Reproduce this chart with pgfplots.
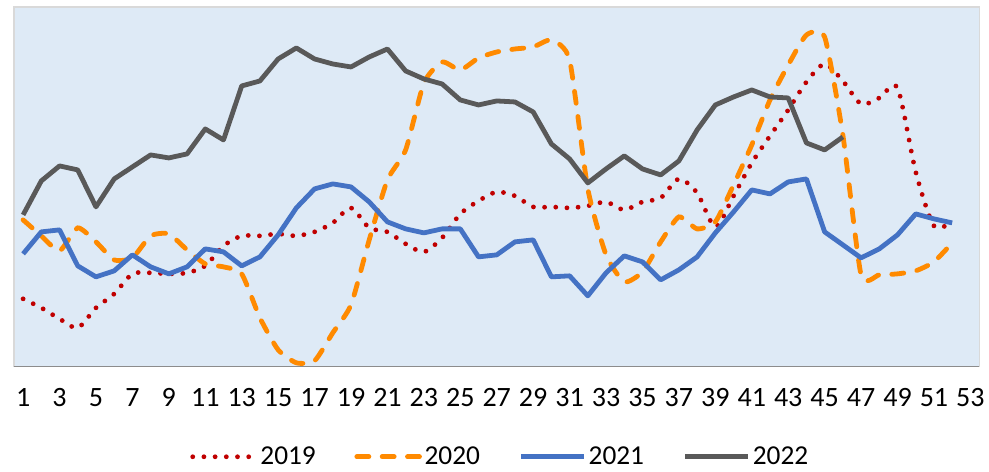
\documentclass[border=0pt]{standalone}
\usepackage{pgfplots}
\pgfplotsset{compat=1.18}
\usepackage{fontspec}
\setmainfont{Carlito}
\definecolor{c19}{HTML}{C00000}
\definecolor{c20}{HTML}{FF8A00}
\definecolor{c21}{HTML}{4472C4}
\definecolor{c22}{HTML}{595959}
\definecolor{bgc}{HTML}{DEEAF6}
\definecolor{bordc}{HTML}{D9D9D9}
\definecolor{axc}{HTML}{8C8C8C}
\begin{document}
\begin{tikzpicture}
\begin{axis}[
  scale only axis, width=724.5pt, height=270pt,
  xmin=0.5, xmax=53.5, ymin=0, ymax=360,
  xtick={1,3,...,53}, ytick=\empty,
  major tick length=0pt,
  axis background/.style={fill=bgc},
  axis line style={draw=bordc, line width=1pt},
  /pgf/number format/assume math mode=true,
  xticklabel style={font=\fontsize{21}{25}\selectfont, yshift=-12.5pt, text=black},
  legend columns=4,
  legend style={at={(0.504,-0.25)}, anchor=center, draw=none, fill=none,
    font=\fontsize{20.5}{24}\selectfont,
    /tikz/every even column/.append style={column sep=27pt}},
  legend image code/.code={\draw[#1] (0pt,0pt) -- (47pt,0pt);},
]
\addplot[c19, line width=3.6pt, line cap=round, dash pattern=on 0pt off 8.4pt, smooth, tension=0.45] coordinates {
(1,68)(2,59)(3,48)(4,39)(5,59)(6,73)(7,93)(8,94)(9,93)(10,94)(11,101)(12,121)(13,131)(14,131)(15,133)(16,131)(17,135)(18,144)(19,159)(20,139)(21,135)(22,123)(23,115)(24,129)(25,153)(26,166)(27,175)(28,171)(29,160)(30,160)(31,159)(32,161)(33,165)(34,157)(35,165)(36,169)(37,188)(38,174)(39,140)(40,171)(41,204)(42,231)(43,257)(44,285)(45,303)(46,286)(47,263)(48,269)(49,279)(50,195)(51,141)(52,145)};
\addlegendentry{2019}
\addplot[c20, line width=3.6pt, line cap=round, dash pattern=on 9pt off 10pt, smooth, tension=0.35] coordinates {
(1,147)(2,131)(3,116)(4,139)(5,125)(6,107)(7,109)(8,131)(9,133)(10,117)(11,103)(12,100)(13,93)(14,49)(15,17)(16,4)(17,6)(18,34)(19,62)(20,127)(21,187)(22,217)(23,284)(24,305)(25,297)(26,309)(27,315)(28,318)(29,320)(30,327)(31,307)(32,178)(33,112)(34,85)(35,95)(36,125)(37,150)(38,138)(39,145)(40,182)(41,222)(42,267)(43,302)(44,332)(45,330)(46,232)(47,92)(48,92)(49,93)(50,96)(51,105)(52,124)};
\addlegendentry{2020}
\addplot[c21, line width=3.6pt, line join=round] coordinates {
(1,113)(2,135)(3,137)(4,101)(5,90)(6,96)(7,112)(8,100)(9,93)(10,100)(11,118)(12,115)(13,101)(14,110)(15,132)(16,159)(17,178)(18,183)(19,180)(20,165)(21,145)(22,138)(23,134)(24,138)(25,138)(26,110)(27,112)(28,125)(29,127)(30,90)(31,91)(32,71)(33,94)(34,111)(35,105)(36,87)(37,97)(38,110)(39,134)(40,155)(41,177)(42,173)(43,185)(44,188)(45,135)(46,122)(47,109)(48,118)(49,132)(50,153)(51,148)(52,144)};
\addlegendentry{2021}
\addplot[c22, line width=3.6pt, line join=round] coordinates {
(1,152)(2,186)(3,201)(4,197)(5,160)(6,188)(7,200)(8,212)(9,209)(10,213)(11,238)(12,227)(13,281)(14,286)(15,308)(16,319)(17,308)(18,303)(19,300)(20,310)(21,318)(22,296)(23,288)(24,283)(25,267)(26,262)(27,266)(28,265)(29,255)(30,223)(31,208)(32,184)(33,198)(34,211)(35,198)(36,192)(37,206)(38,237)(39,262)(40,270)(41,277)(42,270)(43,269)(44,224)(45,217)(46,230)};
\addlegendentry{2022}
\draw[axc, line width=1.5pt] (rel axis cs:0,0) -- (rel axis cs:1,0);
\end{axis}
\path (-10.5pt,-78pt) rectangle (731.25pt,275.25pt);
\end{tikzpicture}
\end{document}
